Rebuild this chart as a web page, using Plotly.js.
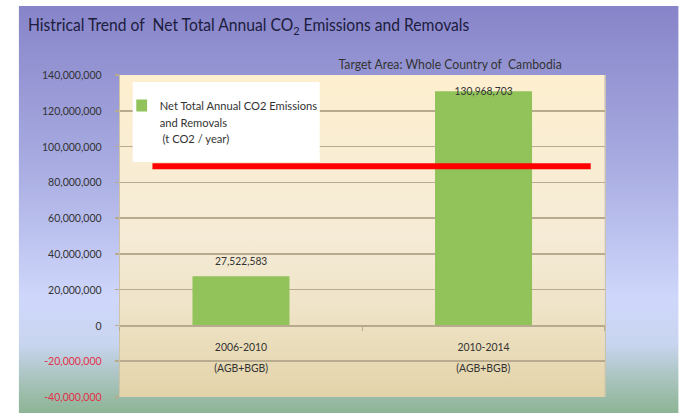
<!DOCTYPE html>
<html>
<head>
<meta charset="utf-8">
<script src="https://cdn.plot.ly/plotly-3.0.1.min.js"></script>
<style>
html,body{margin:0;padding:0;background:#fff;overflow:hidden;width:679px;height:413px;}
#wrap{width:679px;height:413px;overflow:hidden;position:relative;}
#chart{position:absolute;left:0;top:0;transform-origin:0 0;}
</style>
</head>
<body>
<div id="wrap"><div id="chart"></div></div>
<script>
// ---- data ----
const categories = ["2006-2010", "2010-2014"];
const categoryNotes = ["(AGB+BGB)", "(AGB+BGB)"];
const netEmissions = [27522583, 130968703];
const referenceLevel = 89000000;
const yTickValues = [-40000000, -20000000, 0, 20000000, 40000000, 60000000, 80000000, 100000000, 120000000, 140000000];
const seriesName = "Net Total Annual CO2 Emissions<br>and Removals<br>\u00a0(t CO2 / year)";
const titleText = "Histrical Trend of &nbsp;Net Total Annual CO<sub>2</sub> Emissions and Removals";
const subtitleText = "Target Area: Whole Country of &nbsp;Cambodia";

// ---- styles ----
// slightly condensed rendering to mimic the narrow slide font
const S = 0.9;
const FONT = "Lato, 'DejaVu Sans Condensed', sans-serif";
const GRID = "#b7aa8f";
const labelShift = [7, -8];

const ctx = document.createElement("canvas").getContext("2d");
function fit(text, target) {
  ctx.font = "20px " + FONT;
  const w = ctx.measureText(text).width;
  return Math.round(20 * (target / S) / w * 10) / 10;
}
const titleSize = fit("Histrical Trend of  Net Total Annual CO2 Emissions and Removals", 446);
const subSize = fit("Target Area: Whole Country of  Cambodia", 225);
const yTickSize = fit("140,000,000", 60);
const legendSize = fit("Net Total Annual CO2 Emissions", 158);
const xTickSize = fit("(AGB+BGB)", 54);
const dataLabelSize = fit("130,968,703", 58);

function svgGradient(stops) {
  const s = stops.map(([o, c]) => `<stop offset='${o}' stop-color='${c}'/>`).join("");
  const svg = `<svg xmlns='http://www.w3.org/2000/svg' width='100' height='100' preserveAspectRatio='none' viewBox='0 0 100 100'><defs><linearGradient id='g' x1='0' y1='0' x2='0' y2='1'>${s}</linearGradient></defs><rect x='0' y='0' width='100' height='100' fill='url(#g)'/></svg>`;
  return "data:image/svg+xml;charset=utf-8," + encodeURIComponent(svg);
}

const fmt = v => v.toLocaleString("en-US");
const yTickText = yTickValues.map(v => v < 0 ? `<span style="color:#e3304a">${fmt(v)}</span>` : fmt(v));

const trace = {
  type: "bar",
  x: categories,
  y: netEmissions,
  name: seriesName,
  marker: { color: "#92c35a" },
  width: 0.4,
  showlegend: true,
  hoverinfo: "x+y"
};

// reference geometry (px): plot left 120, right 605, top 75, bottom 397
const W0 = 679, H = 413;
const W = W0 / S, L = 120 / S, R = 74 / S, T = 75, B = 16;
const pw = W - L - R, ph = H - T - B;
const px = x => (x / S - L) / pw;
const py = y => (H - B - y) / ph;

const layout = {
  width: W, height: H,
  margin: { l: L, r: R, t: T, b: B, pad: 0 },
  paper_bgcolor: "#ffffff",
  plot_bgcolor: "rgba(0,0,0,0)",
  font: { family: FONT, size: 13, color: "#333333" },
  title: {
    text: titleText,
    xref: "container", yref: "container",
    x: 28 / W0, xanchor: "left",
    y: 1 - 25 / H, yanchor: "middle",
    font: { family: FONT, size: titleSize, color: "#1c1c3c" }
  },
  xaxis: {
    type: "category",
    range: [-0.5, 1.5],
    anchor: "free",
    position: 40 / 180,
    showline: true, linecolor: GRID, linewidth: 1.5,
    ticks: "outside", tickson: "boundaries", ticklen: 4, tickcolor: GRID, tickwidth: 1.5,
    tickvals: categories,
    ticktext: categories,
    tickfont: { family: FONT, size: xTickSize, color: "#333333" },
    ticklabelstandoff: 10,
    showgrid: false, zeroline: false, fixedrange: true
  },
  yaxis: {
    range: [-40000000, 140000000],
    tickvals: yTickValues,
    ticktext: yTickText,
    tickfont: { family: FONT, size: yTickSize, color: "#333333" },
    ticks: "outside", ticklen: 4.5, tickcolor: GRID, tickwidth: 1.5,
    ticklabelstandoff: 12,
    showgrid: true, gridcolor: GRID, gridwidth: 1.5,
    zeroline: false,
    showline: true, linecolor: "#cfc3a6", linewidth: 1.2, mirror: true,
    fixedrange: true
  },
  bargap: 0.6,
  legend: {
    x: px(124), xanchor: "left",
    y: py(91), yanchor: "top",
    bgcolor: "rgba(0,0,0,0)",
    font: { family: FONT, size: legendSize, color: "#333333" },
    valign: "top",
    tracegroupgap: 0
  },
  images: [
    {
      source: svgGradient([[0, "#8784c9"], [0.4, "#a9ade2"], [0.72, "#cfd7fb"], [0.83, "#c8d5ef"], [0.92, "#a8c3bc"], [1, "#8db494"]]),
      xref: "paper", yref: "paper",
      x: px(19), y: py(6), sizex: (W0 - 19) / S / pw, sizey: (H - 6) / ph,
      sizing: "stretch", xanchor: "left", yanchor: "top", layer: "below"
    },
    {
      source: svgGradient([[0, "#fdefcf"], [0.5, "#f5ebd6"], [0.72, "#efe4c8"], [1, "#e3d3a9"]]),
      xref: "paper", yref: "paper",
      x: 0, y: 1, sizex: 1, sizey: 1,
      sizing: "stretch", xanchor: "left", yanchor: "top", layer: "below"
    }
  ],
  shapes: [
    {
      type: "rect", xref: "paper", yref: "paper",
      x0: px(133), x1: px(320), y0: py(162), y1: py(82),
      fillcolor: "#ffffff", line: { width: 0 }, layer: "above"
    },
    {
      type: "line", xref: "x", yref: "y",
      x0: -0.365, x1: 1.442, y0: referenceLevel, y1: referenceLevel,
      line: { color: "#ff0000", width: 6 }, layer: "above"
    }
  ],
  annotations: [
    {
      text: subtitleText, xref: "paper", yref: "paper",
      x: px(337), y: py(64), xanchor: "left", yanchor: "middle",
      showarrow: false, font: { family: FONT, size: subSize, color: "#333333" }
    }
  ].concat(categories.map((c, i) => ({
    text: fmt(netEmissions[i]), xref: "x", yref: "y",
    x: c, y: netEmissions[i], xanchor: "center", yanchor: "bottom",
    yshift: labelShift[i], showarrow: false,
    font: { family: FONT, size: dataLabelSize, color: "#333333" }
  }))).concat(categories.map((c, i) => ({
    text: categoryNotes[i], xref: "x", yref: "y",
    x: c, y: 0, xanchor: "center", yanchor: "middle",
    yshift: -42, showarrow: false,
    font: { family: FONT, size: xTickSize, color: "#333333" }
  })))
};

document.getElementById("chart").style.transform = `scaleX(${S})`;
Plotly.newPlot("chart", [trace], layout, { displayModeBar: false, staticPlot: true });
</script>
</body>
</html>
